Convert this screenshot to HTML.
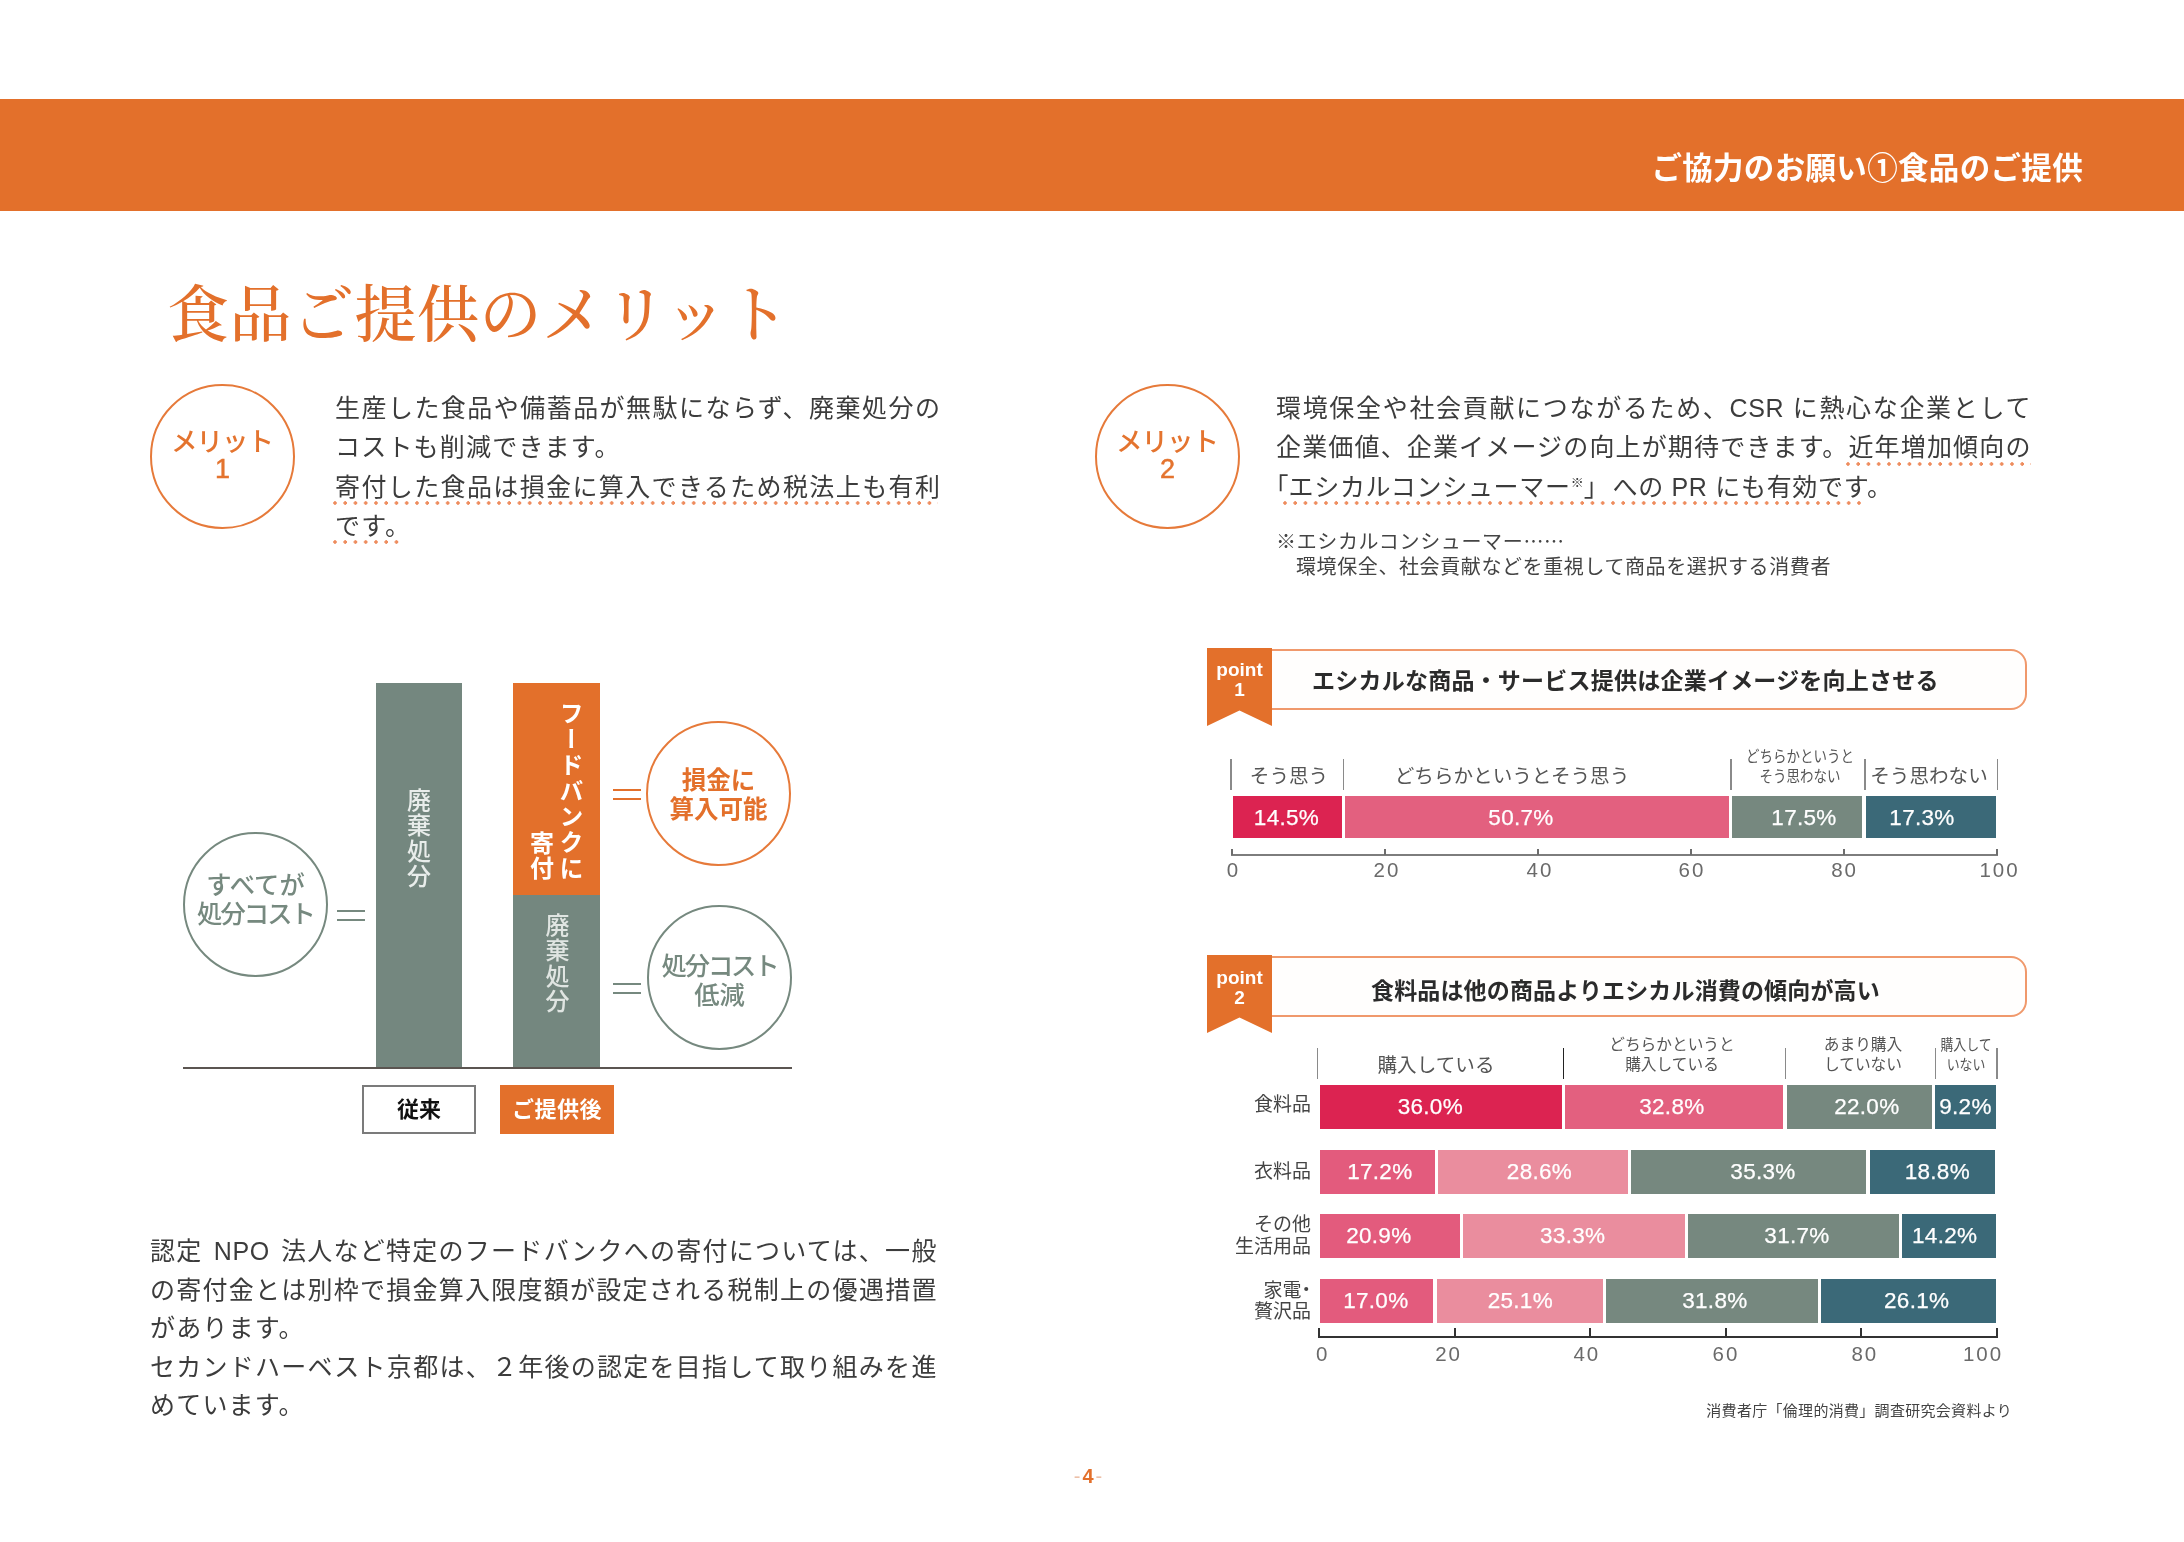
<!DOCTYPE html>
<html lang="ja">
<head>
<meta charset="utf-8">
<title>食品ご提供のメリット</title>
<style>
html,body{margin:0;padding:0;background:#fff;}
body{width:2184px;height:1542px;position:relative;overflow:hidden;filter:blur(0.7px);
  font-family:"Liberation Sans","Noto Sans CJK JP",sans-serif;color:#3c3c3c;}
.abs{position:absolute;white-space:nowrap;}
.band{position:absolute;left:0;top:99px;width:2184px;height:112px;background:#e3702b;}
.bandt{right:101px;top:146px;font-size:30.5px;line-height:44px;font-weight:700;color:#fff;letter-spacing:0.33px;}
.title{left:167px;top:272px;font-family:"Liberation Serif","Noto Serif CJK JP","Noto Serif CJK SC",serif;
  font-size:62px;line-height:88px;color:#e3702b;letter-spacing:0.5px;font-weight:500;}
.circ{position:absolute;box-sizing:border-box;border-radius:50%;border:2.2px solid #e67a3a;}
.circ.g{border-color:#76897f;}
.ctxt{text-align:center;}
.p{font-size:25px;line-height:39px;letter-spacing:1.2px;color:#3c3c3c;}
.j{text-align:justify;text-align-last:justify;white-space:normal;letter-spacing:0.6px;}
.dot{position:absolute;height:4px;background-image:radial-gradient(circle at 2px 2px,#ee8c5e 1.5px,rgba(238,140,94,0) 2px);background-size:10.26px 4px;background-repeat:repeat-x;}
.fn{font-size:20px;line-height:26px;letter-spacing:0.65px;color:#444;}

.b{font-weight:700;}
.vt{writing-mode:vertical-rl;font-size:24px;line-height:29px;letter-spacing:1.2px;font-weight:500;}
.vt.b{font-weight:700;letter-spacing:1px;}
.eq{position:absolute;width:28px;height:7px;border-top:2px solid #e3702b;border-bottom:2px solid #e3702b;}
.eq.g{border-color:#76897f;}

.sg{position:absolute;}
.bt{width:100px;text-align:center;color:#fff;font-size:22.5px;letter-spacing:0.3px;-webkit-text-stroke:0.25px #fff;}
.tk{position:absolute;width:1.6px;background:#8a8a8a;}
.hl{text-align:center;font-size:19.6px;line-height:26px;color:#555;margin-top:2px;}
.hs{text-align:center;font-size:15.7px;line-height:19.6px;color:#555;}
.hs.n{transform:scaleX(0.86);}
.hs.n2{transform:scaleX(0.86);font-size:15px;}
.rl{text-align:right;font-size:19px;line-height:21.5px;color:#444;}
.ax{width:80px;text-align:center;font-size:20.5px;line-height:24px;letter-spacing:2px;color:#6a6a6a;font-weight:400;margin-top:1px;}
.hb{font-feature-settings:"halt" 1;letter-spacing:0;}
</style>
</head>
<body>
<div class="band"></div>
<div class="abs bandt">ご協力のお願い①食品のご提供</div>
<div class="abs title">食品ご提供のメリット</div>

<!-- merit 1 -->
<div class="circ" style="left:150px;top:384px;width:145px;height:145px;"></div>
<div class="abs ctxt" style="left:150px;width:145px;top:427px;font-size:26.5px;line-height:30px;letter-spacing:-1px;text-indent:-1px;font-weight:500;color:#e4742f;">メリット</div>
<div class="abs ctxt" style="left:150px;width:145px;top:454px;font-size:27px;line-height:30px;color:#e4742f;-webkit-text-stroke:0.5px #e4742f;">1</div>

<div class="abs p j" style="left:335px;top:389px;width:605.5px;">生産した食品や備蓄品が無駄にならず、廃棄処分の</div>
<div class="abs p" style="left:335px;top:428.3px;">コストも削減できます。</div>
<div class="abs p j" style="left:335px;top:467.6px;width:605.5px;">寄付した食品は損金に算入できるため税法上も有利</div>
<div class="abs p" style="left:335px;top:507px;">です。</div>
<div class="dot" style="left:332.5px;top:500.5px;width:605px;"></div>
<div class="dot" style="left:332.5px;top:539.5px;width:69px;"></div>

<!-- merit 2 -->
<div class="circ" style="left:1095px;top:384px;width:145px;height:145px;"></div>
<div class="abs ctxt" style="left:1095px;width:145px;top:427px;font-size:26.5px;line-height:30px;letter-spacing:-1px;text-indent:-1px;font-weight:500;color:#e4742f;">メリット</div>
<div class="abs ctxt" style="left:1095px;width:145px;top:454px;font-size:27px;line-height:30px;color:#e4742f;-webkit-text-stroke:0.5px #e4742f;">2</div>

<div class="abs p j" style="left:1276px;top:389px;width:755px;">環境保全や社会貢献につながるため、CSR に熱心な企業として</div>
<div class="abs p j" style="left:1276px;top:428.3px;width:755px;">企業価値、企業イメージの向上が期待できます。近年増加傾向の</div>
<div class="abs p" style="left:1276px;top:467.6px;letter-spacing:0.7px;"><span class="hb">「</span>エシカルコンシューマー<span style="font-size:13px;vertical-align:9px;letter-spacing:0;line-height:0;">※</span>」<span style="margin-left:3px;">へ</span>の PR にも有効です。</div>
<div class="dot" style="left:1846px;top:461.5px;width:185px;"></div>
<div class="dot" style="left:1282.6px;top:500.5px;width:584px;"></div>

<div class="abs fn" style="left:1276px;top:528px;">※エシカルコンシューマー<span style="font-family:'Noto Sans CJK JP',sans-serif;">……</span></div>
<div class="abs fn" style="left:1296px;top:554px;letter-spacing:0.6px;">環境保全、社会貢献などを重視して商品を選択する消費者</div>


<!-- left chart -->
<div style="position:absolute;left:376px;top:683px;width:86px;height:385px;background:#74877f;"></div>
<div style="position:absolute;left:513px;top:683px;width:87px;height:213px;background:#e3702b;"></div>
<div style="position:absolute;left:513px;top:895px;width:87px;height:173px;background:#74877f;"></div>
<div style="position:absolute;left:183px;top:1067px;width:609px;height:2px;background:#5b5551;"></div>

<div class="abs vt" style="left:402.5px;top:788px;color:#e9edeb;">廃棄処分</div>
<div class="abs vt" style="left:541px;top:913px;color:#e0e5e2;">廃棄処分</div>
<div class="abs vt b" style="left:555px;top:701px;color:#fff;letter-spacing:1.8px;">フードバンクに</div>
<div class="abs vt b" style="left:525.5px;top:831px;color:#fff;">寄付</div>

<div class="circ g" style="left:183px;top:832px;width:145px;height:145px;"></div>
<div class="abs ctxt" style="left:183px;width:145px;top:871px;font-size:25.3px;line-height:29px;color:#76897f;font-weight:500;">すべてが<br><span style="letter-spacing:-1.9px;">処分コスト</span></div>
<div class="eq g" style="left:337px;top:910px;"></div>

<div class="circ" style="left:646px;top:721px;width:145px;height:145px;"></div>
<div class="abs ctxt b" style="left:646px;width:145px;top:765.5px;font-size:24.5px;line-height:29px;color:#e3702b;">損金に<br>算入可能</div>
<div class="eq" style="left:613px;top:789px;"></div>

<div class="circ g" style="left:647px;top:905px;width:145px;height:145px;"></div>
<div class="abs ctxt" style="left:647px;width:145px;top:952px;font-size:25.3px;line-height:29px;color:#76897f;font-weight:500;"><span style="letter-spacing:-2.1px;">処分コスト</span><br>低減</div>
<div class="eq g" style="left:613px;top:983px;"></div>

<div style="position:absolute;box-sizing:border-box;left:362px;top:1085px;width:114px;height:49px;border:2px solid #7b7b7b;background:#fff;"></div>
<div class="abs ctxt b" style="left:362px;width:114px;top:1095px;font-size:22px;line-height:30px;color:#111;">従来</div>
<div style="position:absolute;left:500px;top:1085px;width:114px;height:49px;background:#e3702b;"></div>
<div class="abs ctxt b" style="left:500px;width:114px;top:1095px;font-size:22px;line-height:30px;letter-spacing:0.5px;color:#fff;">ご提供後</div>


<!-- right charts -->
<div style="position:absolute;box-sizing:border-box;left:1230px;top:649px;width:797px;height:61px;border:2px solid #f0996c;border-radius:0 16px 16px 0;background:#fffefd;"></div>
<svg style="position:absolute;left:1207px;top:648px;" width="65" height="78" viewBox="0 0 65 78"><polygon points="0,0 65,0 65,78 32.5,62.5 0,78" fill="#e3702b"/></svg>
<div class="abs ctxt b" style="left:1207px;width:65px;top:659px;font-size:19px;line-height:22px;color:#fff;">point</div>
<div class="abs ctxt b" style="left:1207px;width:65px;top:679px;font-size:19px;line-height:22px;color:#fff;">1</div>
<div class="abs b" style="left:1312px;top:664.5px;font-size:23px;line-height:32px;letter-spacing:0.23px;color:#2b2b2b;">エシカルな商品・サービス提供は企業イメージを向上させる</div>
<div class="sg" style="left:1233.0px;top:796px;width:109.0px;height:42px;background:#dc2351;"></div>
<div class="abs bt" style="left:1236.5px;top:796px;height:42px;line-height:43px;">14.5%</div>
<div class="sg" style="left:1345.2px;top:796px;width:383.6px;height:42px;background:#e3607f;"></div>
<div class="abs bt" style="left:1471.0px;top:796px;height:42px;line-height:43px;">50.7%</div>
<div class="sg" style="left:1732.1px;top:796px;width:130.3px;height:42px;background:#76887f;"></div>
<div class="abs bt" style="left:1754.0px;top:796px;height:42px;line-height:43px;">17.5%</div>
<div class="sg" style="left:1865.6px;top:796px;width:130.4px;height:42px;background:#3b6978;"></div>
<div class="abs bt" style="left:1872.0px;top:796px;height:42px;line-height:43px;">17.3%</div>
<div class="tk" style="left:1230.2px;top:759px;height:31px;"></div>
<div class="tk" style="left:1342.7px;top:759px;height:31px;"></div>
<div class="tk" style="left:1730.0px;top:759px;height:31px;"></div>
<div class="tk" style="left:1864.2px;top:759px;height:31px;"></div>
<div class="tk" style="left:1996.5px;top:759px;height:31px;"></div>
<div class="abs hl" style="left:1239px;width:100px;top:761px;">そう思う</div>
<div class="abs hl" style="left:1362px;width:300px;top:761px;">どちらかというとそう思う</div>
<div class="abs hs n" style="left:1700px;width:200px;top:747px;">どちらかというと<br>そう思わない</div>
<div class="abs hl" style="left:1829px;width:200px;top:761px;">そう思わない</div>
<div style="position:absolute;left:1230.5px;top:854px;width:767px;height:2px;background:#7d7d7d;"></div>
<div style="position:absolute;left:1230.5px;top:849px;width:2px;height:6px;background:#6d6d6d;"></div>
<div style="position:absolute;left:1383.5px;top:849px;width:2px;height:6px;background:#6d6d6d;"></div>
<div style="position:absolute;left:1536.5px;top:849px;width:2px;height:6px;background:#6d6d6d;"></div>
<div style="position:absolute;left:1689.5px;top:849px;width:2px;height:6px;background:#6d6d6d;"></div>
<div style="position:absolute;left:1842.5px;top:849px;width:2px;height:6px;background:#6d6d6d;"></div>
<div style="position:absolute;left:1995.5px;top:849px;width:2px;height:6px;background:#6d6d6d;"></div>
<div class="abs ax" style="left:1193.5px;top:857px;">0</div>
<div class="abs ax" style="left:1347px;top:857px;">20</div>
<div class="abs ax" style="left:1500px;top:857px;">40</div>
<div class="abs ax" style="left:1652px;top:857px;">60</div>
<div class="abs ax" style="left:1804.6px;top:857px;">80</div>
<div class="abs ax" style="left:1959.5px;top:857px;">100</div>
<div style="position:absolute;box-sizing:border-box;left:1230px;top:956px;width:797px;height:61px;border:2px solid #f0996c;border-radius:0 16px 16px 0;background:#fffefd;"></div>
<svg style="position:absolute;left:1207px;top:955px;" width="65" height="78" viewBox="0 0 65 78"><polygon points="0,0 65,0 65,78 32.5,62.5 0,78" fill="#e3702b"/></svg>
<div class="abs ctxt b" style="left:1207px;width:65px;top:967px;font-size:19px;line-height:22px;color:#fff;">point</div>
<div class="abs ctxt b" style="left:1207px;width:65px;top:987px;font-size:19px;line-height:22px;color:#fff;">2</div>
<div class="abs b" style="left:1371px;top:974.5px;font-size:23px;line-height:32px;letter-spacing:0.15px;color:#2b2b2b;">食料品は他の商品よりエシカル消費の傾向が高い</div>
<div class="sg" style="left:1320.2px;top:1085px;width:241.6px;height:44px;background:#dc2351;"></div>
<div class="abs bt" style="left:1380.3px;top:1084px;height:44px;line-height:45px;">36.0%</div>
<div class="sg" style="left:1565.0px;top:1085px;width:218.4px;height:44px;background:#e3607f;"></div>
<div class="abs bt" style="left:1621.9px;top:1084px;height:44px;line-height:45px;">32.8%</div>
<div class="sg" style="left:1786.6px;top:1085px;width:145.4px;height:44px;background:#76887f;"></div>
<div class="abs bt" style="left:1816.8px;top:1084px;height:44px;line-height:45px;">22.0%</div>
<div class="sg" style="left:1935.2px;top:1085px;width:60.6px;height:44px;background:#3b6978;"></div>
<div class="abs bt" style="left:1915.5px;top:1084px;height:44px;line-height:45px;">9.2%</div>
<div class="sg" style="left:1320.2px;top:1150px;width:114.6px;height:44px;background:#e35b7d;"></div>
<div class="abs bt" style="left:1329.8px;top:1149px;height:44px;line-height:45px;">17.2%</div>
<div class="sg" style="left:1438.0px;top:1150px;width:190.0px;height:44px;background:#ea8d9e;"></div>
<div class="abs bt" style="left:1489.5px;top:1149px;height:44px;line-height:45px;">28.6%</div>
<div class="sg" style="left:1631.2px;top:1150px;width:235.3px;height:44px;background:#76887f;"></div>
<div class="abs bt" style="left:1713.0px;top:1149px;height:44px;line-height:45px;">35.3%</div>
<div class="sg" style="left:1869.7px;top:1150px;width:125.4px;height:44px;background:#3b6978;"></div>
<div class="abs bt" style="left:1887.3px;top:1149px;height:44px;line-height:45px;">18.8%</div>
<div class="sg" style="left:1320.2px;top:1214px;width:139.6px;height:44px;background:#e35b7d;"></div>
<div class="abs bt" style="left:1328.8px;top:1213px;height:44px;line-height:45px;">20.9%</div>
<div class="sg" style="left:1463.0px;top:1214px;width:221.8px;height:44px;background:#ea8d9e;"></div>
<div class="abs bt" style="left:1522.7px;top:1213px;height:44px;line-height:45px;">33.3%</div>
<div class="sg" style="left:1688.0px;top:1214px;width:211.0px;height:44px;background:#76887f;"></div>
<div class="abs bt" style="left:1747.0px;top:1213px;height:44px;line-height:45px;">31.7%</div>
<div class="sg" style="left:1902.1px;top:1214px;width:94.3px;height:44px;background:#3b6978;"></div>
<div class="abs bt" style="left:1894.7px;top:1213px;height:44px;line-height:45px;">14.2%</div>
<div class="sg" style="left:1320.2px;top:1279px;width:113.3px;height:44px;background:#e35b7d;"></div>
<div class="abs bt" style="left:1325.8px;top:1278px;height:44px;line-height:45px;">17.0%</div>
<div class="sg" style="left:1436.7px;top:1279px;width:166.4px;height:44px;background:#ea8d9e;"></div>
<div class="abs bt" style="left:1470.3px;top:1278px;height:44px;line-height:45px;">25.1%</div>
<div class="sg" style="left:1606.2px;top:1279px;width:211.6px;height:44px;background:#76887f;"></div>
<div class="abs bt" style="left:1664.9px;top:1278px;height:44px;line-height:45px;">31.8%</div>
<div class="sg" style="left:1821.1px;top:1279px;width:174.7px;height:44px;background:#3b6978;"></div>
<div class="abs bt" style="left:1866.7px;top:1278px;height:44px;line-height:45px;">26.1%</div>
<div class="tk" style="left:1316.7px;top:1048px;height:31px;background:#8a8a8a;"></div>
<div class="tk" style="left:1562.8px;top:1048px;height:31px;background:#222;"></div>
<div class="tk" style="left:1784.8px;top:1048px;height:31px;background:#8a8a8a;"></div>
<div class="tk" style="left:1934.9px;top:1048px;height:31px;background:#8a8a8a;"></div>
<div class="tk" style="left:1996.2px;top:1048px;height:31px;background:#8a8a8a;"></div>
<div class="abs hl" style="left:1336px;width:200px;top:1050px;">購入している</div>
<div class="abs hs" style="left:1572px;width:200px;top:1035px;">どちらかというと<br>購入している</div>
<div class="abs hs" style="left:1763px;width:200px;top:1035px;">あまり購入<br>していない</div>
<div class="abs hs n2" style="left:1866px;width:200px;top:1035px;">購入して<br>いない</div>
<div class="abs rl" style="left:1111px;width:200px;top:1093.5px;">食料品</div>
<div class="abs rl" style="left:1111px;width:200px;top:1160.5px;">衣料品</div>
<div class="abs rl" style="left:1111px;width:200px;top:1214px;">その他<br>生活用品</div>
<div class="abs rl" style="left:1111px;width:200px;top:1279.7px;">家電<span class="hb">・</span><br>贅沢品</div>
<div style="position:absolute;left:1318px;top:1336px;width:680px;height:2px;background:#333;"></div>
<div style="position:absolute;left:1318.0px;top:1328px;width:2px;height:9px;background:#333;"></div>
<div style="position:absolute;left:1453.5px;top:1328px;width:2px;height:9px;background:#333;"></div>
<div style="position:absolute;left:1589.1px;top:1328px;width:2px;height:9px;background:#333;"></div>
<div style="position:absolute;left:1724.7px;top:1328px;width:2px;height:9px;background:#333;"></div>
<div style="position:absolute;left:1860.2px;top:1328px;width:2px;height:9px;background:#333;"></div>
<div style="position:absolute;left:1995.8px;top:1328px;width:2px;height:9px;background:#333;"></div>
<div class="abs ax" style="left:1282.7px;top:1341px;">0</div>
<div class="abs ax" style="left:1408.6px;top:1341px;">20</div>
<div class="abs ax" style="left:1546.8px;top:1341px;">40</div>
<div class="abs ax" style="left:1686px;top:1341px;">60</div>
<div class="abs ax" style="left:1824.8px;top:1341px;">80</div>
<div class="abs ax" style="left:1943px;top:1341px;">100</div>
<div class="abs" style="right:172px;top:1400px;font-size:15px;line-height:22px;letter-spacing:0.3px;color:#444;">消費者庁「倫理的消費」調査研究会資料より</div>

<!-- bottom paragraph -->
<div class="abs p j" style="left:150px;top:1232px;width:787px;word-spacing:3px;">認定 NPO 法人など特定のフードバンクへの寄付については、一般</div>
<div class="abs p j" style="left:150px;top:1270.5px;width:787px;">の寄付金とは別枠で損金算入限度額が設定される税制上の優遇措置</div>
<div class="abs p" style="left:150px;top:1309px;">があります。</div>
<div class="abs p j" style="left:150px;top:1347.5px;width:787px;">セカンドハーベスト京都は、２年後の認定を目指して取り組みを進</div>
<div class="abs p" style="left:150px;top:1386px;">めています。</div>
<div class="abs" style="left:1058px;width:60px;text-align:center;top:1465px;font-size:20px;line-height:22px;color:#e3702b;font-weight:700;"><span style="font-weight:400;color:#ecc0a8;margin-right:2px;">-</span>4<span style="font-weight:400;color:#ecc0a8;margin-left:2px;">-</span></div>

</body>
</html>
